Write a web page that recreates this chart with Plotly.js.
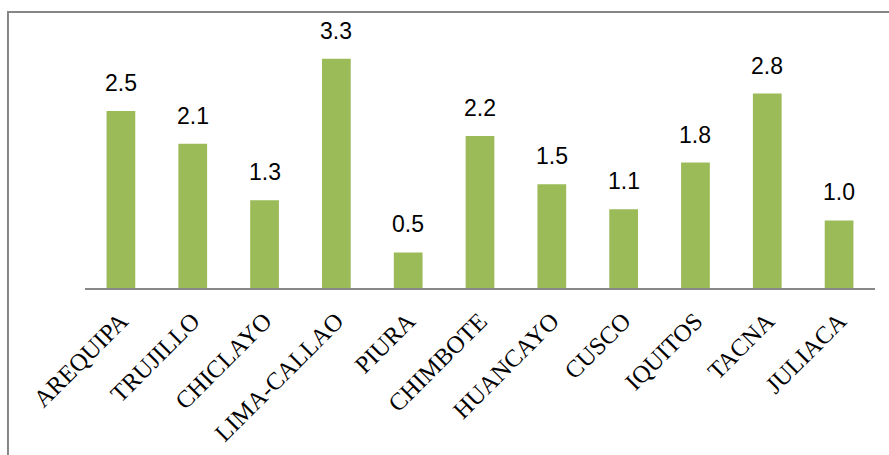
<!DOCTYPE html>
<html>
<head>
<meta charset="utf-8">
<script src="https://cdn.plot.ly/plotly-3.0.1.min.js"></script>
<style>html,body{margin:0;padding:0;background:#fff;}#chart{width:889px;height:455px;}</style>
</head>
<body>
<div id="chart"></div>
<script>
const cities = ["AREQUIPA","TRUJILLO","CHICLAYO","LIMA-CALLAO","PIURA","CHIMBOTE","HUANCAYO","CUSCO","IQUITOS","TACNA","JULIACA"];
const values = [2.54, 2.07, 1.26, 3.29, 0.51, 2.18, 1.49, 1.13, 1.80, 2.79, 0.97];

const trace = {
  type: "bar",
  x: cities,
  y: values,
  marker: {color: "#9BBB59", line: {width: 0}},
  hoverinfo: "x+y"
};

const annotations = cities.map((c, i) => ({
  x: c, y: values[i], xref: "x", yref: "y",
  text: values[i].toFixed(1),
  showarrow: false, yanchor: "bottom", yshift: 13,
  font: {family: "Liberation Sans, Arial, sans-serif", size: 23, color: "#000"}
}));

const layout = {
  width: 889, height: 455,
  margin: {l: 85, r: 14, t: 44, b: 167, pad: 0},
  paper_bgcolor: "#fff", plot_bgcolor: "#fff",
  showlegend: false,
  bargap: 0.6,
  xaxis: {
    type: "category",
    showline: true, linecolor: "#888888", linewidth: 2,
    showgrid: false, zeroline: false, ticks: "",
    tickangle: -45,
    ticklabelstandoff: 7,
    tickfont: {family: "Liberation Serif, Times New Roman, serif", size: 24.5, color: "#000"}
  },
  yaxis: {
    range: [0, 3.5], visible: false, showgrid: false, zeroline: false, fixedrange: true
  },
  annotations: annotations,
  shapes: [{
    type: "path", xref: "paper", yref: "paper",
    path: "M -0.0975 -0.7 L -0.0975 1.131 L 1.03 1.131",
    line: {color: "#868686", width: 2}
  }]
};

Plotly.newPlot("chart", [trace], layout, {displayModeBar: false, staticPlot: true});
</script>
</body>
</html>
